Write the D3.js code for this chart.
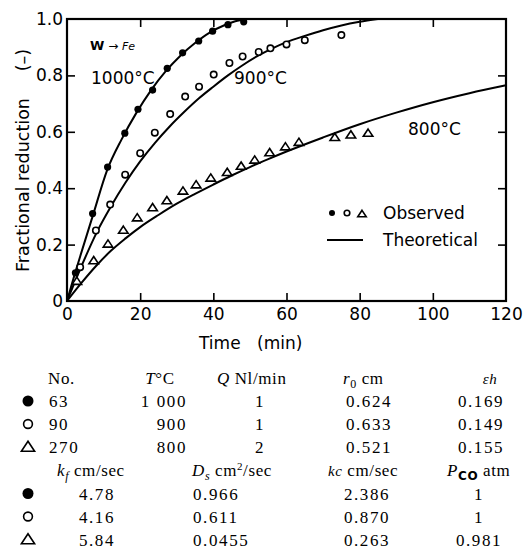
<!DOCTYPE html>
<html>
<head>
<meta charset="utf-8">
<script src="https://cdn.jsdelivr.net/npm/d3@7"></script>
<style>
  html, body { margin: 0; padding: 0; background: #fff; }
  svg { display: block; }
</style>
</head>
<body>
<script>
// ---------- data ----------
const xTicks = [0, 20, 40, 60, 80, 100, 120];
const yTicks = [0, 0.2, 0.4, 0.6, 0.8, 1.0];
const yTickLabels = ["0", "0.2", "0.4", "0.6", "0.8", "1.0"];

// observed points (time min, fractional reduction)
const tObs1000 = [2.3, 7.0, 11.1, 15.8, 19.4, 23.4, 27.4, 31.6, 36.0, 39.8, 44.0, 48.3];
const fObs1000 = [0.10, 0.31, 0.475, 0.595, 0.68, 0.748, 0.825, 0.88, 0.922, 0.957, 0.98, 0.99];
const tObs900 = [3.6, 7.9, 11.8, 15.9, 20.0, 24.0, 28.2, 32.3, 36.1, 40.1, 44.4, 48.0, 52.4, 55.6, 60.0, 65.0, 75.0];
const fObs900 = [0.12, 0.25, 0.342, 0.448, 0.524, 0.597, 0.663, 0.725, 0.76, 0.803, 0.844, 0.867, 0.883, 0.896, 0.91, 0.925, 0.943];
const tObs800 = [2.7, 7.3, 11.2, 15.4, 19.2, 23.4, 27.3, 31.7, 35.3, 39.3, 43.8, 47.6, 51.3, 55.4, 59.7, 63.4, 73.2, 77.6, 82.3];
const fObs800 = [0.07, 0.143, 0.202, 0.251, 0.295, 0.331, 0.356, 0.39, 0.412, 0.436, 0.456, 0.478, 0.5, 0.526, 0.547, 0.563, 0.58, 0.589, 0.595];

// theoretical curves
const tTh1000 = [0, 2, 4, 7, 11, 15, 19, 23, 27, 31, 35, 39, 43, 46, 49];
const fTh1000 = [0, 0.09, 0.175, 0.3, 0.465, 0.575, 0.668, 0.748, 0.815, 0.87, 0.915, 0.952, 0.978, 0.992, 1.0];
const tTh900 = [0, 4, 8, 12, 16, 20, 24, 28, 32, 36, 40, 44, 48, 52, 56, 60, 65, 70, 75, 80, 85];
const fTh900 = [0, 0.125, 0.24, 0.335, 0.42, 0.495, 0.56, 0.618, 0.67, 0.718, 0.76, 0.8, 0.836, 0.868, 0.895, 0.918, 0.94, 0.96, 0.977, 0.99, 1.0];
const tTh800 = [0, 4, 8, 12, 16, 20, 25, 30, 35, 40, 45, 50, 55, 60, 70, 80, 90, 100, 110, 120];
const fTh800 = [0, 0.065, 0.125, 0.178, 0.222, 0.262, 0.305, 0.345, 0.38, 0.413, 0.445, 0.475, 0.503, 0.53, 0.58, 0.627, 0.668, 0.705, 0.737, 0.765];

// table
const runNo = ["63", "90", "270"];
const tempC = ["1 000", "900", "800"];
const flowQ = ["1", "1", "2"];
const radius0 = ["0.624", "0.633", "0.521"];
const epsH = ["0.169", "0.149", "0.155"];
const kfVals = ["4.78", "4.16", "5.84"];
const DsVals = ["0.966", "0.611", "0.0455"];
const kcVals = ["2.386", "0.870", "0.263"];
const PcoVals = ["1", "1", "0.981"];
const markerKinds = ["filled", "open", "triangle"];

// ---------- drawing ----------
const W = 528, H = 552;
const svg = d3.select("body").append("svg").attr("width", W).attr("height", H)
  .style("font-family", "'DejaVu Sans', sans-serif");

const x = d3.scaleLinear().domain([0, 120]).range([67, 506]);
const y = d3.scaleLinear().domain([0, 1]).range([301, 19]);

const ink = "#000";

// axes (inward ticks)
const axB = svg.append("g").attr("transform", `translate(0,${y(0)})`)
  .call(d3.axisBottom(x).tickValues(xTicks).tickSize(-8).tickPadding(7).tickFormat(d3.format("d")));
const axL = svg.append("g").attr("transform", `translate(${x(0)},0)`)
  .call(d3.axisLeft(y).tickValues(yTicks).tickSize(-8).tickPadding(4).tickFormat((d, i) => yTickLabels[i]));
const axT = svg.append("g").attr("transform", `translate(0,${y(1)})`)
  .call(d3.axisTop(x).tickValues(xTicks.slice(1, -1)).tickSize(-8).tickFormat(""));
const axR = svg.append("g").attr("transform", `translate(${x(120)},0)`)
  .call(d3.axisRight(y).tickValues(yTicks.slice(1, -1)).tickSize(-8).tickFormat(""));

[axB, axL, axT, axR].forEach(g => {
  g.select(".domain").remove();
  g.selectAll(".tick line").attr("stroke", ink).attr("stroke-width", 1.6);
  g.selectAll(".tick text").attr("fill", ink).style("font-size", "17px")
    .style("font-family", "'DejaVu Sans', sans-serif");
});
axL.selectAll(".tick").filter(d => d === 0 || d === 1).select("line").remove();
axB.selectAll(".tick").filter(d => d === 0 || d === 120).select("line").remove();

// frame
svg.append("rect")
  .attr("x", x(0)).attr("y", y(1))
  .attr("width", x(120) - x(0)).attr("height", y(0) - y(1))
  .attr("fill", "none").attr("stroke", ink).attr("stroke-width", 2.2);

// curves
const line = d3.line().x(d => x(d[0])).y(d => y(d[1])).curve(d3.curveMonotoneX);
const curves = [[tTh1000, fTh1000], [tTh900, fTh900], [tTh800, fTh800]];
curves.forEach(([ts, fs]) => {
  svg.append("path")
    .datum(ts.map((t, i) => [t, fs[i]]))
    .attr("d", line)
    .attr("fill", "none").attr("stroke", ink).attr("stroke-width", 2);
});

// markers
function drawMarker(g, kind, cx, cy, r) {
  if (kind === "filled") {
    g.append("circle").attr("cx", cx).attr("cy", cy).attr("r", r).attr("fill", ink);
  } else if (kind === "open") {
    g.append("circle").attr("cx", cx).attr("cy", cy).attr("r", r - 0.6)
      .attr("fill", "#fff").attr("stroke", ink).attr("stroke-width", 1.6);
  } else {
    const s = r * 1.15;
    g.append("path")
      .attr("d", `M${cx},${cy - s}L${cx + s * 1.15},${cy + s * 0.75}L${cx - s * 1.15},${cy + s * 0.75}Z`)
      .attr("fill", "#fff").attr("stroke", ink).attr("stroke-width", 1.6).attr("stroke-linejoin", "miter");
  }
}
const pts = svg.append("g");
tObs800.forEach((t, i) => drawMarker(pts, "triangle", x(t), y(fObs800[i]), 3.6));
tObs900.forEach((t, i) => drawMarker(pts, "open", x(t), y(fObs900[i]), 3.8));
tObs1000.forEach((t, i) => drawMarker(pts, "filled", x(t), y(fObs1000[i]), 3.6));

// in-plot labels
const lab = svg.append("g").attr("fill", ink).style("font-size", "17px");
lab.append("text").attr("x", 91).attr("y", 84).text("1000°C");
lab.append("text").attr("x", 234).attr("y", 84).text("900°C");
lab.append("text").attr("x", 408).attr("y", 135).text("800°C");
const wfe = lab.append("text").attr("x", 90).attr("y", 50);
wfe.append("tspan").style("font-size", "13px").style("font-weight", "bold").text("W");
wfe.append("tspan").style("font-size", "12px").text(" → ");
wfe.append("tspan").style("font-size", "11px").style("font-style", "italic").text("Fe");

// legend
const leg = svg.append("g");
drawMarker(leg, "filled", 332, 213, 3);
drawMarker(leg, "open", 347, 213, 3.4);
drawMarker(leg, "triangle", 362, 214, 3.2);
leg.append("text").attr("x", 383).attr("y", 219).style("font-size", "17px").attr("fill", ink).text("Observed");
leg.append("line").attr("x1", 327).attr("x2", 363).attr("y1", 240).attr("y2", 240)
  .attr("stroke", ink).attr("stroke-width", 2);
leg.append("text").attr("x", 383).attr("y", 246).style("font-size", "17px").attr("fill", ink).text("Theoretical");

// axis titles
const ytitle = svg.append("g").attr("fill", ink).style("font-size", "17.5px");
ytitle.append("text").attr("transform", "translate(29,185) rotate(-90)")
  .attr("text-anchor", "middle").text("Fractional reduction");
ytitle.append("text").attr("transform", "translate(29,60) rotate(-90)")
  .attr("text-anchor", "middle").text("(–)");
svg.append("text").attr("x", 199).attr("y", 349).style("font-size", "17px").attr("fill", ink).text("Time");
svg.append("text").attr("x", 257).attr("y", 349).style("font-size", "17px").attr("fill", ink).text("(min)");

// ---------- table ----------
const tbl = svg.append("g").style("font-family", "'Liberation Serif', 'Times New Roman', serif")
  .style("font-size", "17px").attr("fill", ink);
const rowY = [378, 401, 424, 447, 470, 493.5, 516.5, 539.5]; // text centre lines
const base = v => v + 6;

function header(xp, yp, parts, anchor) {
  const t = tbl.append("text").attr("x", xp).attr("y", base(yp)).attr("text-anchor", anchor || "start")
    .style("letter-spacing", "0.6px");
  parts.forEach(p => {
    const s = t.append("tspan").text(p.t);
    if (p.i) s.style("font-style", "italic");
    if (p.fs) s.style("font-size", p.fs + "px");
    if (p.dy) s.attr("dy", p.dy);
    if (p.ff) s.style("font-family", p.ff);
    if (p.fw) s.style("font-weight", p.fw);
  });
}
function cell(xp, yp, txt, anchor) {
  tbl.append("text").attr("x", xp).attr("y", base(yp)).attr("text-anchor", anchor)
    .style("letter-spacing", "1.6px").text(txt);
}

header(48, rowY[0], [{t: "No."}]);
header(160, rowY[0], [{t: "T", i: true}, {t: "°C"}], "middle");
header(217, rowY[0], [{t: "Q", i: true}, {t: " Nl/min"}]);
header(343, rowY[0], [{t: "r", i: true}, {t: "0", fs: 12, dy: 4}, {t: " cm", dy: -4}]);
header(490, rowY[0], [{t: "εh", i: true, fs: 15}], "middle");

for (let i = 0; i < 3; i++) {
  const yy = rowY[1 + i];
  drawMarker(tbl, markerKinds[i], 28, yy, markerKinds[i] === "filled" ? 5.5 : 5);
  cell(49, yy, runNo[i], "start");
  cell(187, yy, tempC[i], "end");
  cell(260, yy, flowQ[i], "middle");
  cell(369, yy, radius0[i], "middle");
  cell(481, yy, epsH[i], "middle");
}

header(57, rowY[4], [{t: "k", i: true}, {t: "f", i: true, fs: 12, dy: 4}, {t: " cm/sec", dy: -4}]);
header(192, rowY[4], [{t: "D", i: true}, {t: "s", i: true, fs: 12, dy: 4}, {t: " cm", dy: -4}, {t: "2", fs: 11, dy: -6}, {t: "/sec", dy: 6}]);
header(328, rowY[4], [{t: "kc", i: true, fs: 15}, {t: " cm/sec"}]);
header(447, rowY[4], [{t: "P", i: true}, {t: "CO", fs: 12, dy: 4, ff: "'DejaVu Sans', sans-serif", fw: "bold"}, {t: " atm", dy: -4}]);

for (let i = 0; i < 3; i++) {
  const yy = rowY[5 + i];
  drawMarker(tbl, markerKinds[i], 28, yy, markerKinds[i] === "filled" ? 5.5 : 5);
  cell(97, yy, kfVals[i], "middle");
  cell(193, yy, DsVals[i], "start");
  cell(367, yy, kcVals[i], "middle");
  cell(479, yy, PcoVals[i], "middle");
}
</script>
</body>
</html>
